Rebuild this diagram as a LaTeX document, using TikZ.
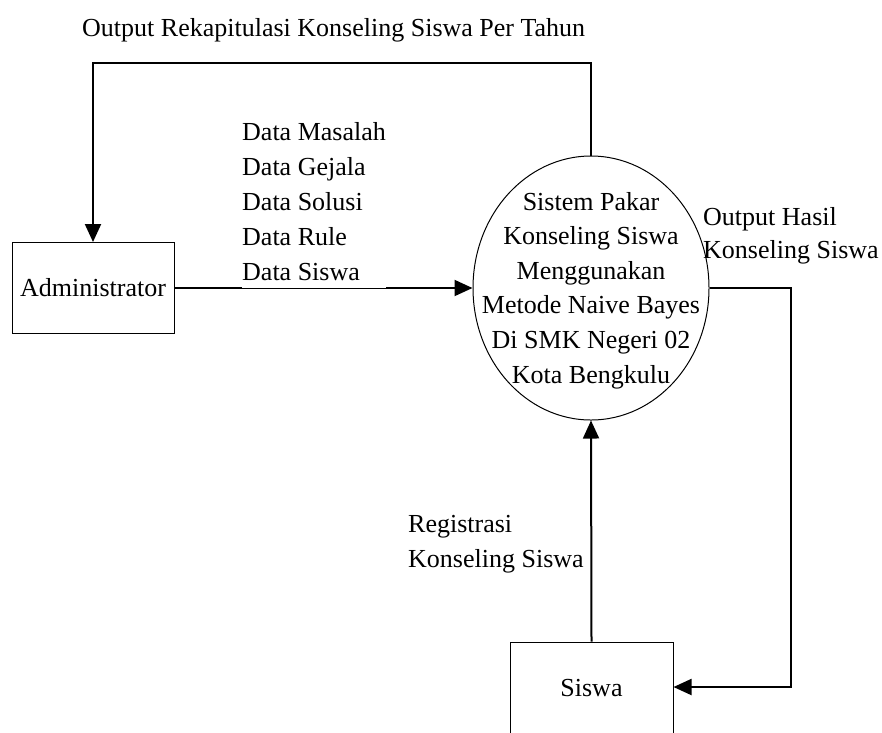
\documentclass[tikz,border=0pt]{standalone}
\usepackage{fontspec}
\setmainfont{Liberation Serif}
\usetikzlibrary{arrows.meta,shapes.geometric}

\tikzset{
  flow/.style={line width=2pt,-{Triangle[length=18pt,width=16pt]}},
  entity/.style={draw,line width=1pt,rectangle,inner sep=0pt},
  process/.style={draw,line width=1pt,ellipse,inner sep=0pt,
    minimum width=236pt,minimum height=264pt},
  lbl/.style={inner sep=0pt,align=left},
  every node/.style={font=\fontsize{26}{34.6}\selectfont}
}

\begin{document}
\begin{tikzpicture}[x=1pt,y=-1pt]
  \useasboundingbox (0,0) rectangle (882,732);
  \clip (0,0) rectangle (882,732);

  % external entities and the process
  \node[entity,minimum width=162pt,minimum height=91pt] (admin) at (93,288) {Administrator};
  \node[entity,minimum width=163pt,minimum height=92pt] (siswa) at (591.5,688) {Siswa};
  \node[process] (sys) at (591,288) {};
  % multi-line nodes sit on the baseline of their last line
  \node[inner sep=0pt,align=center,anchor=base] (systxt) at (591,383)
    {Sistem Pakar\\Konseling Siswa\\Menggunakan\\Metode Naive Bayes\\Di SMK Negeri 02\\Kota Bengkulu};

  % bend points of the routed flows
  \coordinate (tl) at (93,63);
  \coordinate (tr) at (591,63);
  \coordinate (rr) at (791,288);
  \coordinate (rb) at (791,687);

  % data flows
  \draw[flow] (sys.north) -- (tr) -- (tl) -- (admin.north);
  \draw[flow] (admin.east) -- (sys.west);
  \draw[flow] (sys.east) -- (rr) -- (rb) -- (siswa.east |- rb);
  \draw[flow] (siswa.north) -- (sys.south);

  % flow labels
  \node[lbl,anchor=base west] (ttl) at (82,36) {Output Rekapitulasi Konseling Siswa Per Tahun};
  \node[lbl,anchor=base west,fill=white,font=\fontsize{26}{35}\selectfont] (data) at (242,280)
    {Data Masalah\\Data Gejala\\Data Solusi\\Data Rule\\Data Siswa\rule[-8.4pt]{0pt}{0pt}};
  \node[lbl,anchor=base west,font=\fontsize{26}{33}\selectfont] (hasil) at (703,258) {Output Hasil\\Konseling Siswa};
  \node[lbl,anchor=base west] (reg) at (408,567) {Registrasi\\Konseling Siswa};
\end{tikzpicture}
\end{document}
